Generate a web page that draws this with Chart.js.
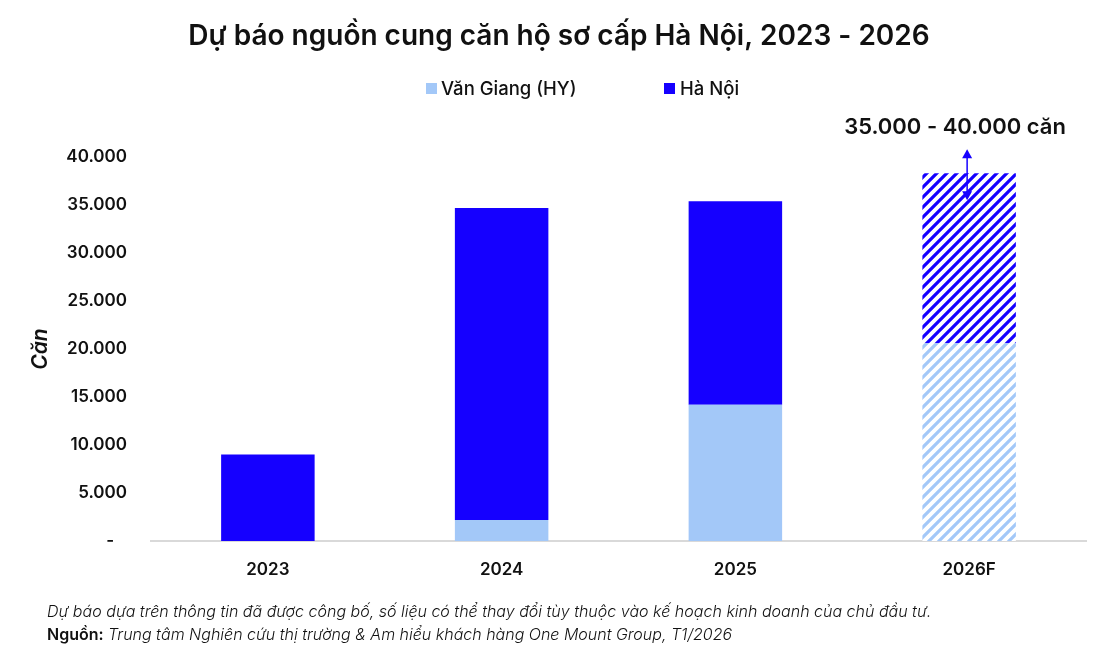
<!DOCTYPE html>
<html><head><meta charset="utf-8">
<script src="https://cdn.jsdelivr.net/npm/chart.js@4.4.1/dist/chart.umd.min.js"></script>
<style>html,body{margin:0;padding:0;background:#fff}#wrap{width:1116px;height:667px}</style>
</head><body><div id="wrap"><canvas id="c" width="1116" height="667"></canvas></div>
<script>
const categories = ['2023', '2024', '2025', '2026F'];
const vanGiang = [0, 2200, 14200, 20600];
const haNoi = [9000, 32500, 21200, 17700];
const seriesNames = ['Văn Giang (HY)', 'Hà Nội'];
const titleText = 'Dự báo nguồn cung căn hộ sơ cấp Hà Nội, 2023 - 2026';
const annotationText = '35.000 - 40.000 căn';
const annotationRange = [35500, 40800];
const footnote1 = 'Dự báo dựa trên thông tin đã được công bố, số liệu có thể thay đổi tùy thuộc vào kế hoạch kinh doanh của chủ đầu tư.';
const sourceLabel = 'Nguồn:';
const sourceText = ' Trung tâm Nghiên cứu thị trường & Am hiểu khách hàng One Mount Group, T1/2026';

const C_HN = '#1500FF';
const C_VG = '#A3C8F8';
const FONT = 'Inter, "Noto Sans", sans-serif';

function hatch(color, lw) {
  const s = 10, c = document.createElement('canvas');
  c.width = s; c.height = s;
  const x = c.getContext('2d');
  x.fillStyle = '#fff'; x.fillRect(0, 0, s, s);
  x.strokeStyle = color; x.lineWidth = lw;
  x.beginPath();
  x.moveTo(-2, s + 2); x.lineTo(s + 2, -2);
  x.moveTo(-2, 2); x.lineTo(2, -2);
  x.moveTo(s - 2, s + 2); x.lineTo(s + 2, s - 2);
  x.stroke();
  return x.createPattern(c, 'repeat');
}
const ctx0 = document.getElementById('c').getContext('2d');
const patHN = hatch(C_HN, 3.2);
const patVG = hatch(C_VG, 3.2);

const forecast = categories.map(c => c.endsWith('F'));

const decor = {
  id: 'decor',
  afterDraw(chart) {
    const ctx = chart.ctx;
    ctx.save();
    // title
    ctx.fillStyle = '#111';
    ctx.font = '600 28px ' + FONT;
    ctx.textAlign = 'center'; ctx.textBaseline = 'middle';
    ctx.fillText(titleText, 559, 37);
    // legend
    ctx.font = '500 18.5px ' + FONT;
    ctx.textAlign = 'left';
    ctx.fillStyle = C_VG; ctx.fillRect(426, 83, 11, 11);
    ctx.fillStyle = '#111'; ctx.fillText(seriesNames[0], 441, 89);
    ctx.fillStyle = C_HN; ctx.fillRect(664, 83, 11, 11);
    ctx.fillStyle = '#111'; ctx.fillText(seriesNames[1], 680, 89);
    // annotation
    const xs = chart.scales.x, ys = chart.scales.y;
    const ax = xs.getPixelForValue(3) - 2;
    const yTop = ys.getPixelForValue(annotationRange[1]);
    const yBot = ys.getPixelForValue(annotationRange[0]);
    ctx.font = '600 22px ' + FONT;
    ctx.textAlign = 'center';
    ctx.fillStyle = '#111';
    ctx.fillText(annotationText, 955, 127);
    ctx.strokeStyle = C_HN; ctx.fillStyle = C_HN; ctx.lineWidth = 1.5;
    ctx.beginPath(); ctx.moveTo(ax, yTop + 6); ctx.lineTo(ax, yBot - 6); ctx.stroke();
    ctx.beginPath(); ctx.moveTo(ax, yTop); ctx.lineTo(ax - 5, yTop + 9); ctx.lineTo(ax + 5, yTop + 9); ctx.closePath(); ctx.fill();
    ctx.beginPath(); ctx.moveTo(ax, yBot); ctx.lineTo(ax - 5, yBot - 9); ctx.lineTo(ax + 5, yBot - 9); ctx.closePath(); ctx.fill();
    // footnotes
    ctx.fillStyle = '#111';
    ctx.textAlign = 'left';
    ctx.font = 'italic 300 16px ' + FONT;
    ctx.fillText(footnote1, 47, 612);
    ctx.font = '600 16px ' + FONT;
    ctx.fillText(sourceLabel, 47, 635);
    const w = ctx.measureText(sourceLabel).width;
    ctx.font = 'italic 300 16px ' + FONT;
    ctx.fillText(sourceText, 47 + w, 635);
    ctx.restore();
  }
};

new Chart(ctx0, {
  type: 'bar',
  data: {
    labels: categories,
    datasets: [
      { label: seriesNames[0], data: vanGiang, backgroundColor: forecast.map(f => f ? patVG : C_VG), borderWidth: 0 },
      { label: seriesNames[1], data: haNoi, backgroundColor: forecast.map(f => f ? patHN : C_HN), borderWidth: 0 }
    ]
  },
  options: {
    responsive: false,
    animation: false,
    devicePixelRatio: 1,
    layout: { padding: { top: 157, right: 30, bottom: 86, left: 28 } },
    plugins: { legend: { display: false }, title: { display: false }, tooltip: { enabled: false } },
    datasets: { bar: { categoryPercentage: 1, barPercentage: 0.4 } },
    scales: {
      x: {
        stacked: true,
        grid: { display: false, drawTicks: false },
        border: { display: true, color: '#D9D9D9', width: 2 },
        ticks: { color: '#111', font: { family: FONT, size: 17, weight: '600' }, padding: 19 },
        afterFit(s) { s.height = 40; }
      },
      y: {
        stacked: true,
        min: 0, max: 40000,
        grid: { display: false, drawTicks: false },
        border: { display: false },
        ticks: {
          stepSize: 5000, padding: 24, color: '#111',
          font: { family: FONT, size: 17, weight: '600' },
          callback: v => v === 0 ? '-   ' : v.toLocaleString('de-DE')
        },
        title: { display: true, text: 'Căn', color: '#111', font: { family: FONT, size: 21, weight: '600', style: 'italic' }, padding: 0 },
        afterFit(s) { s.width = 123; }
      }
    }
  },
  plugins: [decor]
});
</script></body></html>
